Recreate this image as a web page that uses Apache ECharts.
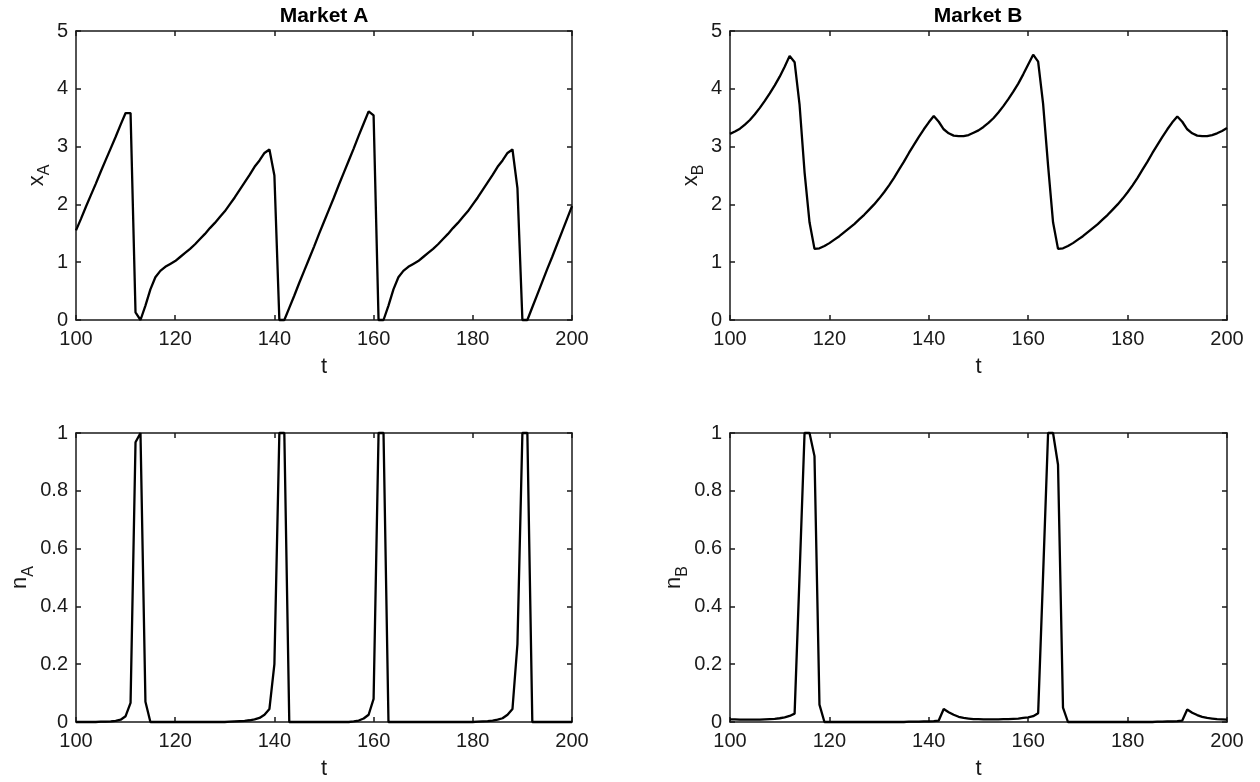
<!DOCTYPE html>
<html>
<head>
<meta charset="utf-8">
<title>Market A / Market B</title>
<script src="https://cdn.jsdelivr.net/npm/echarts@6/dist/echarts.min.js"></script>
<style>
	html, body { margin: 0; padding: 0; background: #fff; }
	#chart { width: 1260px; height: 782px; }
</style>
</head>
<body>
<div id="chart"></div>
<script>
// time steps
var T = [100,101,102,103,104,105,106,107,108,109,110,111,112,113,114,115,116,117,118,119,
	120,121,122,123,124,125,126,127,128,129,130,131,132,133,134,135,136,137,138,139,
	140,141,142,143,144,145,146,147,148,149,150,151,152,153,154,155,156,157,158,159,
	160,161,162,163,164,165,166,167,168,169,170,171,172,173,174,175,176,177,178,179,
	180,181,182,183,184,185,186,187,188,189,190,191,192,193,194,195,196,197,198,199,200];

// x_A, Market A
var XA = [1.55,1.75,1.96,2.16,2.36,2.57,2.77,2.97,3.17,3.38,3.58,3.58,0.13,0.00,0.25,0.53,0.74,0.85,0.92,0.97,
	1.02,1.09,1.16,1.23,1.31,1.40,1.49,1.59,1.68,1.78,1.88,2.00,2.12,2.25,2.38,2.51,2.65,2.76,2.89,2.95,
	2.50,0.00,0.00,0.21,0.42,0.64,0.85,1.06,1.27,1.49,1.70,1.91,2.12,2.34,2.55,2.76,2.97,3.19,3.40,3.61,
	3.54,0.00,0.00,0.25,0.53,0.74,0.85,0.92,0.97,1.02,1.09,1.16,1.23,1.31,1.40,1.49,1.59,1.68,1.78,1.88,
	2.00,2.12,2.25,2.38,2.51,2.65,2.76,2.89,2.95,2.28,0.00,0.00,0.22,0.44,0.66,0.88,1.09,1.31,1.53,1.75,1.97];

// x_B, Market B
var XB = [3.22,3.26,3.31,3.38,3.46,3.56,3.67,3.79,3.92,4.06,4.21,4.38,4.57,4.46,3.72,2.56,1.69,1.23,1.24,1.28,
	1.33,1.39,1.45,1.52,1.59,1.66,1.74,1.82,1.91,2.00,2.10,2.21,2.33,2.46,2.60,2.74,2.89,3.03,3.17,3.30,
	3.42,3.53,3.43,3.30,3.23,3.19,3.18,3.18,3.20,3.24,3.28,3.34,3.41,3.49,3.59,3.70,3.82,3.95,4.09,4.25,
	4.42,4.59,4.47,3.74,2.67,1.69,1.23,1.24,1.28,1.33,1.39,1.45,1.52,1.59,1.66,1.74,1.82,1.91,2.00,2.10,
	2.21,2.33,2.46,2.60,2.74,2.89,3.03,3.17,3.30,3.42,3.52,3.43,3.30,3.23,3.19,3.18,3.18,3.20,3.23,3.27,3.32];

// n_A, Market A
var NA = [0,0,0,0,0,0.001,0.001,0.002,0.004,0.008,0.02,0.066,0.968,1,0.07,0,0,0,0,0,
	0,0,0,0,0,0,0,0,0,0,0,0.001,0.002,0.003,0.004,0.006,0.009,0.014,0.025,0.045,
	0.2,1,1,0,0,0,0,0,0,0,0,0,0,0,0,0,0.002,0.005,0.012,0.025,
	0.08,1,1,0,0,0,0,0,0,0,0,0,0,0,0,0,0,0,0,0,
	0,0.001,0.002,0.003,0.005,0.008,0.013,0.025,0.045,0.27,1,1,0,0,0,0,0,0,0,0,0];

// n_B, Market B
var NB = [0.009,0.009,0.008,0.008,0.008,0.008,0.008,0.009,0.010,0.011,0.013,0.016,0.021,0.029,0.51,1,1,0.92,0.06,0,
	0,0,0,0,0,0,0,0,0,0,0,0,0,0,0,0,0.001,0.001,0.001,0.002,
	0.002,0.003,0.005,0.045,0.034,0.025,0.018,0.014,0.012,0.010,0.010,0.009,0.009,0.009,0.009,0.010,0.010,0.011,0.012,0.014,
	0.016,0.020,0.030,0.51,1,1,0.89,0.05,0,0,0,0,0,0,0,0,0,0,0,0,
	0,0,0,0,0,0,0.001,0.001,0.002,0.002,0.003,0.005,0.043,0.032,0.024,0.018,0.014,0.012,0.010,0.009,0.008];

var X_TICKS = [100, 200, 20];   // min, max, interval
var FONT = "'Liberation Sans', Arial, Helvetica, sans-serif";
var INK = '#1a1a1a';

function pairs(ys) {
	var out = [];
	for (var i = 0; i < T.length; i++) {
		out.push([T[i], ys[i]]);
	}
	return out;
}

function axisBase(pos, gridIndex, min, max, interval, withLabels, margin) {
	return {
		type: 'value',
		gridIndex: gridIndex,
		position: pos,
		min: min,
		max: max,
		interval: interval,
		axisLine: {show: true, onZero: false, lineStyle: {color: INK, width: 1.5}},
		axisTick: {show: true, inside: true, length: 5, lineStyle: {color: INK, width: 1.5}},
		splitLine: {show: false},
		axisLabel: {show: withLabels, color: INK, fontSize: 20, fontFamily: FONT, margin: margin}
	};
}

function yName(letter, sub) {
	return '{m|' + letter + '}{s|' + sub + '}';
}

var panels = [
	{left: 76,  top: 31,  width: 496, data: XA, ymax: 5, yint: 1,   name: yName('x', 'A'), gap: 22},
	{left: 730, top: 31,  width: 497, data: XB, ymax: 5, yint: 1,   name: yName('x', 'B'), gap: 22},
	{left: 76,  top: 433, width: 496, data: NA, ymax: 1, yint: 0.2, name: yName('n', 'A'), gap: 41},
	{left: 730, top: 433, width: 497, data: NB, ymax: 1, yint: 0.2, name: yName('n', 'B'), gap: 41}
];

var grids = [], xAxes = [], yAxes = [], series = [];
for (var i = 0; i < panels.length; i++) {
	var p = panels[i];
	grids.push({left: p.left, top: p.top, width: p.width, height: 289, containLabel: false});

	var xb = axisBase('bottom', i, X_TICKS[0], X_TICKS[1], X_TICKS[2], true, 9);
	xb.name = 't';
	xb.nameLocation = 'middle';
	xb.nameGap = 36;
	xb.nameTextStyle = {color: INK, fontSize: 22, fontFamily: FONT};
	xAxes.push(xb);
	xAxes.push(axisBase('top', i, X_TICKS[0], X_TICKS[1], X_TICKS[2], false, 8));

	var yl = axisBase('left', i, 0, p.ymax, p.yint, true, 8);
	yl.name = p.name;
	yl.nameLocation = 'middle';
	yl.nameRotate = 90;
	yl.nameGap = p.gap;
	yl.nameTextStyle = {
		color: INK,
		fontFamily: FONT,
		rich: {
			m: {fontSize: 22, lineHeight: 22, verticalAlign: 'top', color: INK, fontFamily: FONT},
			s: {fontSize: 16, lineHeight: 16, padding: [16, 0, 0, 0], color: INK, fontFamily: FONT}
		}
	};
	yAxes.push(yl);
	yAxes.push(axisBase('right', i, 0, p.ymax, p.yint, false, 8));

	series.push({
		type: 'line',
		xAxisIndex: 2 * i,
		yAxisIndex: 2 * i,
		data: pairs(p.data),
		showSymbol: false,
		symbol: 'none',
		clip: false,
		lineStyle: {color: '#000', width: 2.3},
		z: 1
	});
}

var myChart = echarts.init(document.getElementById('chart'), null, {renderer: 'canvas'});
var option = {
	animation: false,
	backgroundColor: '#fff',
	grid: grids,
	xAxis: xAxes,
	yAxis: yAxes,
	series: series,
	graphic: [
		{type: 'text', x: 324, y: 16, style: {text: 'Market A', align: 'center', verticalAlign: 'middle', fill: '#000', font: 'bold 21px ' + FONT}},
		{type: 'text', x: 978, y: 16, style: {text: 'Market B', align: 'center', verticalAlign: 'middle', fill: '#000', font: 'bold 21px ' + FONT}}
	]
};
myChart.setOption(option);
</script>
</body>
</html>
